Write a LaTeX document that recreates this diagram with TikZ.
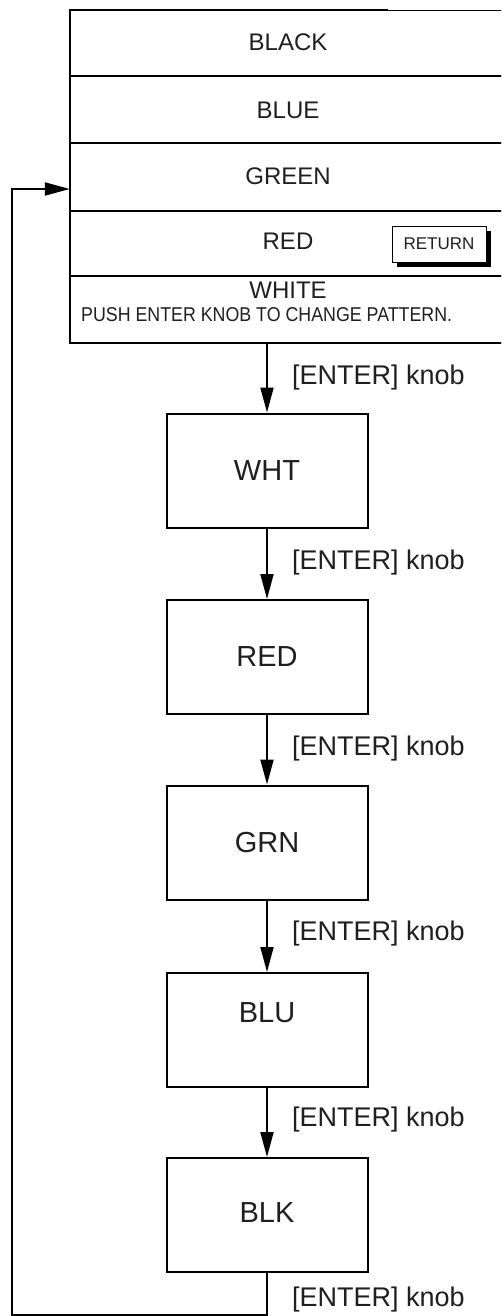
\documentclass[tikz,border=0pt]{standalone}
\usepackage{fontspec}
\setmainfont{Liberation Sans}
\usetikzlibrary{arrows.meta,shadows}
\definecolor{ink}{gray}{0.12}
\begin{document}
\begin{tikzpicture}[x=1pt,y=-1pt,
  line/.style={draw=black,line width=2pt},
  flow/.style={line,-{Triangle[length=25pt,width=13pt]}},
  pbox/.style={draw=black,line width=2pt,minimum width=201pt,minimum height=114pt,inner sep=0pt},
  boxtext/.style={text=ink,font=\fontsize{29}{29}\selectfont,inner sep=0pt},
  menutext/.style={text=ink,font=\fontsize{24}{24}\selectfont,inner sep=0pt},
  keylabel/.style={text=ink,font=\fontsize{27}{27}\selectfont,inner sep=0pt,anchor=west},
  retbox/.style={draw=black,line width=1pt,fill=white,minimum width=94pt,minimum height=36pt,inner sep=0pt,
     font=\fontsize{17}{17}\selectfont,text=ink,
     general shadow={fill=black,shadow xshift=4.5pt,shadow yshift=-4.5pt}}
]
\useasboundingbox (0,0) rectangle (501,1316);
\clip (0,0) rectangle (501,1316);
\fill[white] (0,0) rectangle (501,1316);

% menu frame
\draw[line width=2.6pt] (70,10) -- (388,10);
\draw[line width=1.8pt] (388,10.5) -- (510,10.5);
\draw[line] (70,9) -- (70,344);
\draw[line] (70,76) -- (510,76);
\draw[line] (70,143) -- (510,143);
\draw[line] (70,211) -- (510,211);
\draw[line] (70,276) -- (510,276);
\draw[line width=2.4pt] (70,343) -- (388,343);
\draw[line width=1.8pt] (388,343) -- (510,343);

% menu rows (invisible frames for anchoring)
\node[minimum width=436pt,minimum height=66pt,inner sep=0pt] (rowblack) at (288,43) {};
\node[minimum width=436pt,minimum height=67pt,inner sep=0pt] (rowblue) at (288,109.5) {};
\node[minimum width=436pt,minimum height=68pt,inner sep=0pt] (rowgreen) at (288,177) {};
\node[minimum width=436pt,minimum height=65pt,inner sep=0pt] (rowred) at (288,243.5) {};
\node[minimum width=436pt,minimum height=67pt,inner sep=0pt] (rowwhite) at (288,309.5) {};

\node[menutext] (tblack) at (288,42) {BLACK};
\node[menutext] (tblue) at (288,110) {BLUE};
\node[menutext] (tgreen) at (288,176) {GREEN};
\node[menutext] (tred) at (288,241) {RED};
\node[menutext] (twhite) at (288,290) {WHITE};
\node[text=ink,font=\fontsize{20}{20}\selectfont,inner sep=0pt,anchor=base west] (tpush) at (81,321.5)
  {\scalebox{0.89}[1]{PUSH ENTER KNOB TO CHANGE PATTERN.}};
\node[retbox] (ret) at (439,244) {RETURN};

% pattern boxes
\node[pbox] (wht) at (267,470.5) {};
\node[boxtext] (twht) at (wht.center) {WHT};
\node[pbox] (red) at (267,657) {};
\node[boxtext] (tred2) at (red.center) {RED};
\node[pbox] (grn) at (267,842.5) {};
\node[boxtext] (tgrn) at (grn.center) {GRN};
\node[pbox] (blu) at (267,1030) {};
\node[boxtext] (tblu) at ([yshift=17pt]blu.center) {BLU};
\node[pbox] (blk) at (267,1215) {};
\node[boxtext] (tblk) at ([yshift=2pt]blk.center) {BLK};

% arrows
\draw[flow] (wht.north |- rowwhite.south) -- (wht.north);
\draw[flow] (wht.south) -- (red.north);
\draw[flow] (red.south) -- (grn.north);
\draw[flow] (grn.south) -- (blu.north);
\draw[flow] (blu.south) -- (blk.north);
\coordinate (fbcorner) at (12,1314.8);
\draw[flow] (blk.south) |- (fbcorner) |- ([yshift=-12pt]rowgreen.west);

% labels
\node[keylabel] (k1) at (292,378) {[ENTER] knob};
\node[keylabel] (k2) at (292,563) {[ENTER] knob};
\node[keylabel] (k3) at (292,749) {[ENTER] knob};
\node[keylabel] (k4) at (292,934) {[ENTER] knob};
\node[keylabel] (k5) at (292,1120) {[ENTER] knob};
\node[keylabel] (k6) at (292,1300) {[ENTER] knob};
\end{tikzpicture}
\end{document}
